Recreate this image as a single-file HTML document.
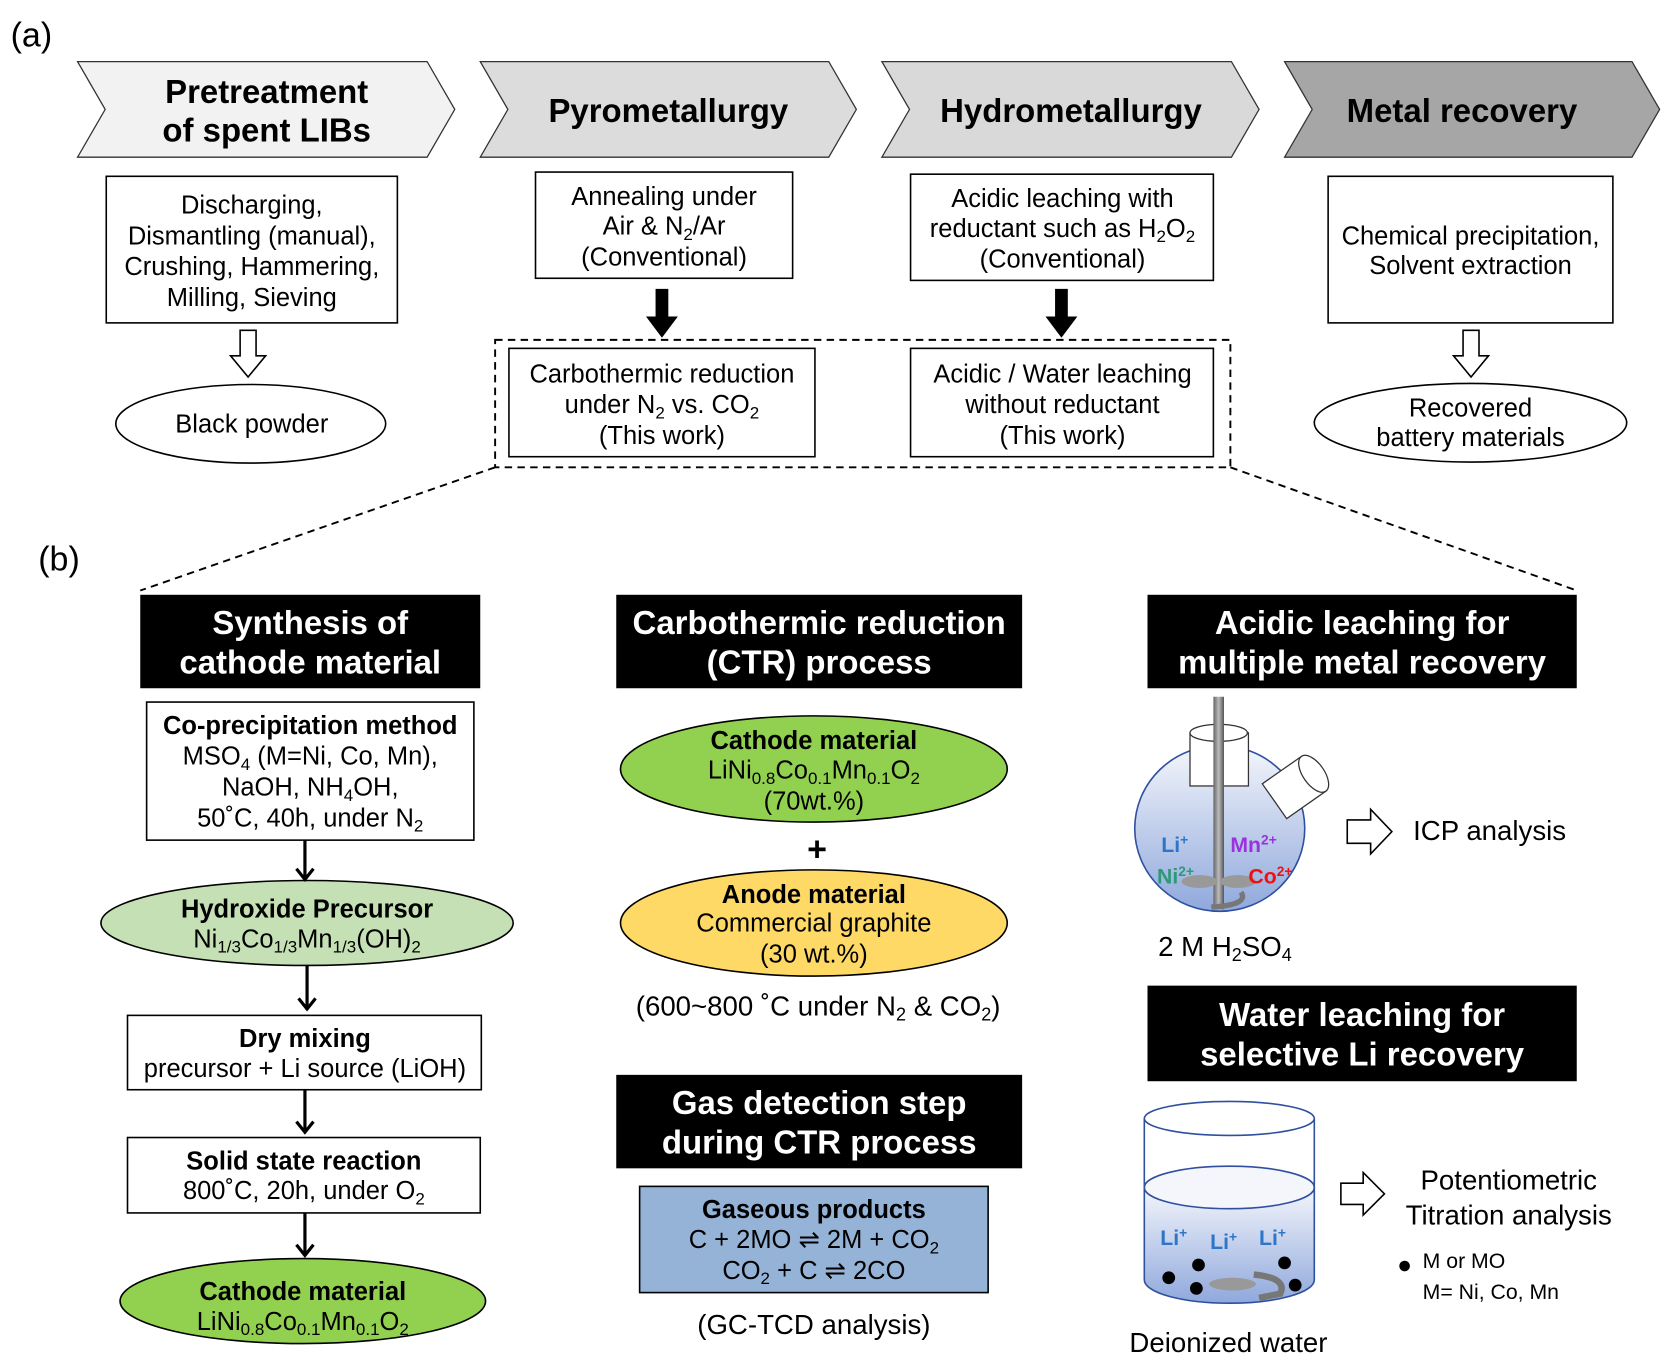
<!DOCTYPE html>
<html><head><meta charset="utf-8"><style>
html,body{margin:0;padding:0;background:#fff}
svg{display:block}
text{font-family:"Liberation Sans",Arial,sans-serif;fill:#000}
.b{font-weight:bold}
.w{fill:#fff;font-weight:bold}
</style></head><body>
<svg width="1666" height="1368" viewBox="0 0 1568 1288" preserveAspectRatio="none" xmlns="http://www.w3.org/2000/svg">
<defs>
<linearGradient id="liq" x1="0" y1="0" x2="0" y2="1"><stop offset="0" stop-color="#f4f6fb"/><stop offset="1" stop-color="#8fa8dc"/></linearGradient>
<linearGradient id="rod" x1="0" y1="0" x2="1" y2="0"><stop offset="0" stop-color="#666"/><stop offset=".5" stop-color="#bbb"/><stop offset="1" stop-color="#555"/></linearGradient>
</defs>
<text x="10" y="44" font-size="32">(a)</text>
<g stroke="#333" stroke-width="1.2">
<path d="M73,58 L402,58 L428,103 L402,148 L73,148 L99,103 Z" fill="#f2f2f2"/>
<path d="M452,58 L780,58 L806,103 L780,148 L452,148 L478,103 Z" fill="#dcdcdc"/>
<path d="M830,58 L1159,58 L1185,103 L1159,148 L830,148 L856,103 Z" fill="#d9d9d9"/>
<path d="M1209,58 L1536,58 L1562,103 L1536,148 L1209,148 L1235,103 Z" fill="#a6a6a6"/>
</g>
<g font-size="31" text-anchor="middle">
<text x="251" y="97" class="b">Pretreatment</text><text x="251" y="133" class="b">of spent LIBs</text>
<text x="629" y="115" class="b">Pyrometallurgy</text>
<text x="1008" y="115" class="b">Hydrometallurgy</text>
<text x="1376" y="115" class="b">Metal recovery</text>
</g>
<g fill="#fff" stroke="#000" stroke-width="1.5">
<rect x="100" y="166" width="274" height="138"/>
<rect x="504" y="162" width="242" height="100"/>
<rect x="857" y="164" width="285" height="100"/>
<rect x="1250" y="166" width="268" height="138"/>
<rect x="479" y="328" width="288" height="102"/>
<rect x="857" y="328" width="285" height="102"/>
<ellipse cx="236" cy="399" rx="127" ry="37"/>
<ellipse cx="1384" cy="398" rx="147" ry="37"/>
</g>
<g font-size="24" text-anchor="middle">
<text x="237" y="201">Discharging,</text><text x="237" y="230">Dismantling (manual),</text><text x="237" y="259">Crushing, Hammering,</text><text x="237" y="288">Milling, Sieving</text>
<text x="625" y="193">Annealing under</text><text x="625" y="221">Air &amp; N<tspan font-size="16" dy="5">2</tspan><tspan dy="-5">/Ar</tspan></text><text x="625" y="250">(Conventional)</text>
<text x="1000" y="195">Acidic leaching with</text><text x="1000" y="223">reductant such as H<tspan font-size="16" dy="5">2</tspan><tspan dy="-5">O</tspan><tspan font-size="16" dy="5">2</tspan></text><text x="1000" y="252">(Conventional)</text>
<text x="1384" y="230">Chemical precipitation,</text><text x="1384" y="258">Solvent extraction</text>
<text x="623" y="360">Carbothermic reduction</text><text x="623" y="389">under N<tspan font-size="16" dy="5">2</tspan><tspan dy="-5"> vs. CO</tspan><tspan font-size="16" dy="5">2</tspan></text><text x="623" y="418">(This work)</text>
<text x="1000" y="360">Acidic / Water leaching</text><text x="1000" y="389">without reductant</text><text x="1000" y="418">(This work)</text>
<text x="237" y="407">Black powder</text>
<text x="1384" y="392">Recovered</text><text x="1384" y="420">battery materials</text>
</g>
<g fill="#fff" stroke="#000" stroke-width="1.5">
<path d="M226,311 L241,311 L241,335 L250,335 L233.5,355 L217,335 L226,335 Z"/>
<path d="M1377,311 L1392,311 L1392,335 L1401,335 L1384.5,355 L1368,335 L1377,335 Z"/>
</g>
<g fill="#000">
<path d="M617,272 L629,272 L629,298 L638,298 L623,318 L608,298 L617,298 Z"/>
<path d="M993,272 L1005,272 L1005,298 L1014,298 L999,318 L984,298 L993,298 Z"/>
</g>
<g fill="none" stroke="#000" stroke-width="1.8" stroke-dasharray="7,5">
<rect x="466" y="320" width="692" height="120"/>
<line x1="466" y1="440" x2="132" y2="556"/>
<line x1="1158" y1="440" x2="1484" y2="556"/>
</g>
<text x="36" y="537" font-size="32">(b)</text>
<g fill="#000">
<rect x="132" y="560" width="320" height="88"/>
<rect x="580" y="560" width="382" height="88"/>
<rect x="1080" y="560" width="404" height="88"/>
<rect x="580" y="1012" width="382" height="88"/>
<rect x="1080" y="928" width="404" height="90"/>
</g>
<g font-size="31" text-anchor="middle">
<text x="292" y="597" class="w">Synthesis of</text><text x="292" y="634" class="w">cathode material</text>
<text x="771" y="597" class="w">Carbothermic reduction</text><text x="771" y="634" class="w">(CTR) process</text>
<text x="1282" y="597" class="w">Acidic leaching for</text><text x="1282" y="634" class="w">multiple metal recovery</text>
<text x="771" y="1049" class="w">Gas detection step</text><text x="771" y="1086" class="w">during CTR process</text>
<text x="1282" y="966" class="w">Water leaching for</text><text x="1282" y="1003" class="w">selective Li recovery</text>
</g>
<g stroke="#000" stroke-width="1.5">
<rect x="138" y="661" width="308" height="130" fill="#fff"/>
<ellipse cx="289" cy="869" rx="194" ry="40" fill="#c5e0b4"/>
<rect x="120" y="956" width="333" height="70" fill="#fff"/>
<rect x="120" y="1071" width="332" height="71" fill="#fff"/>
<ellipse cx="285" cy="1225" rx="172" ry="40" fill="#92d050"/>
<ellipse cx="766" cy="724" rx="182" ry="50" fill="#92d050"/>
<ellipse cx="766" cy="869" rx="182" ry="50" fill="#ffd966"/>
<rect x="602" y="1117" width="328" height="100" fill="#95b3d7"/>
</g>
<g stroke="#000" stroke-width="3" fill="none">
<line x1="287" y1="791" x2="287" y2="826"/><path d="M279,818 L287,828 L295,818"/>
<line x1="289" y1="909" x2="289" y2="948"/><path d="M281,940 L289,950 L297,940"/>
<line x1="287" y1="1026" x2="287" y2="1064"/><path d="M279,1056 L287,1066 L295,1056"/>
<line x1="287" y1="1142" x2="287" y2="1180"/><path d="M279,1172 L287,1182 L295,1172"/>
</g>
<g font-size="24" text-anchor="middle">
<text x="292" y="691" class="b">Co-precipitation method</text>
<text x="292" y="720">MSO<tspan font-size="16" dy="5">4</tspan><tspan dy="-5"> (M=Ni, Co, Mn),</tspan></text>
<text x="292" y="749">NaOH, NH<tspan font-size="16" dy="5">4</tspan><tspan dy="-5">OH,</tspan></text>
<text x="292" y="778">50˚C, 40h, under N<tspan font-size="16" dy="5">2</tspan></text>
<text x="289" y="864" class="b">Hydroxide Precursor</text>
<text x="289" y="892">Ni<tspan font-size="16" dy="5">1/3</tspan><tspan dy="-5">Co</tspan><tspan font-size="16" dy="5">1/3</tspan><tspan dy="-5">Mn</tspan><tspan font-size="16" dy="5">1/3</tspan><tspan dy="-5">(OH)</tspan><tspan font-size="16" dy="5">2</tspan></text>
<text x="287" y="986" class="b">Dry mixing</text>
<text x="287" y="1014">precursor + Li source (LiOH)</text>
<text x="286" y="1101" class="b">Solid state reaction</text>
<text x="286" y="1129">800˚C, 20h, under O<tspan font-size="16" dy="5">2</tspan></text>
<text x="285" y="1224" class="b">Cathode material</text>
<text x="285" y="1252">LiNi<tspan font-size="16" dy="5">0.8</tspan><tspan dy="-5">Co</tspan><tspan font-size="16" dy="5">0.1</tspan><tspan dy="-5">Mn</tspan><tspan font-size="16" dy="5">0.1</tspan><tspan dy="-5">O</tspan><tspan font-size="16" dy="5">2</tspan></text>
<text x="766" y="705" class="b">Cathode material</text>
<text x="766" y="733">LiNi<tspan font-size="16" dy="5">0.8</tspan><tspan dy="-5">Co</tspan><tspan font-size="16" dy="5">0.1</tspan><tspan dy="-5">Mn</tspan><tspan font-size="16" dy="5">0.1</tspan><tspan dy="-5">O</tspan><tspan font-size="16" dy="5">2</tspan></text>
<text x="766" y="762">(70wt.%)</text>
<text x="769" y="810" font-size="32" class="b">+</text>
<text x="766" y="850" class="b">Anode material</text>
<text x="766" y="877">Commercial graphite</text>
<text x="766" y="906">(30 wt.%)</text>
<text x="770" y="956" font-size="26">(600~800 ˚C under N<tspan font-size="17" dy="5">2</tspan><tspan dy="-5"> &amp; CO</tspan><tspan font-size="17" dy="5">2</tspan><tspan dy="-5">)</tspan></text>
<text x="766" y="1147" class="b">Gaseous products</text>
<text x="766" y="1175">C + 2MO ⇌ 2M + CO<tspan font-size="16" dy="5">2</tspan></text>
<text x="766" y="1204">CO<tspan font-size="16" dy="5">2</tspan><tspan dy="-5"> + C ⇌ 2CO</tspan></text>
<text x="766" y="1256" font-size="26">(GC-TCD analysis)</text>
</g>
<!-- flask -->
<ellipse cx="1148" cy="780" rx="80" ry="78" fill="url(#liq)" stroke="#2f4f9f" stroke-width="1.5"/>
<rect x="1120" y="690" width="55" height="50" fill="#fff" stroke="#333" stroke-width="1.2"/>
<ellipse cx="1147" cy="690" rx="27" ry="8" fill="#fff" stroke="#333" stroke-width="1.2"/>
<g transform="rotate(-35 1220 740)"><rect x="1195" y="720" width="45" height="40" fill="#fff" stroke="#333" stroke-width="1.2"/><ellipse cx="1240" cy="740" rx="10" ry="20" fill="#fff" stroke="#333" stroke-width="1.2"/></g>
<rect x="1142" y="656" width="10" height="200" fill="url(#rod)"/>
<ellipse cx="1129" cy="830" rx="17" ry="6" fill="#999"/><ellipse cx="1165" cy="830" rx="17" ry="6" fill="#999"/>
<path d="M1168,840 Q1176,852 1140,854" fill="none" stroke="#777" stroke-width="5"/>
<g font-size="20" class="b">
<text x="1093" y="802" style="fill:#2e75c8">Li<tspan font-size="13" dy="-7">+</tspan></text>
<text x="1158" y="802" style="fill:#9933dd">Mn<tspan font-size="13" dy="-7">2+</tspan></text>
<text x="1089" y="832" style="fill:#2e9977">Ni<tspan font-size="13" dy="-7">2+</tspan></text>
<text x="1175" y="832" style="fill:#ee1111">Co<tspan font-size="13" dy="-7">2+</tspan></text>
</g>
<text x="1090" y="900" font-size="26">2 M H<tspan font-size="17" dy="5">2</tspan><tspan dy="-5">SO</tspan><tspan font-size="17" dy="5">4</tspan></text>
<path d="M1268,772 L1290,772 L1290,762 L1310,783 L1290,804 L1290,794 L1268,794 Z" fill="#fff" stroke="#000" stroke-width="1.5"/>
<text x="1330" y="791" font-size="26">ICP analysis</text>
<!-- beaker -->
<path d="M1077,1118 L1077,1205 A80,22 0 0 0 1237,1205 L1237,1118" fill="url(#liq)" stroke="#2f4f9f" stroke-width="1.5"/>
<ellipse cx="1157" cy="1118" rx="80" ry="20" fill="#f4f6fb" stroke="#2f4f9f" stroke-width="1.5"/>
<path d="M1077,1053 L1077,1118 M1237,1053 L1237,1118" stroke="#2f4f9f" stroke-width="1.5"/>
<ellipse cx="1157" cy="1053" rx="80" ry="16" fill="#fff" stroke="#2f4f9f" stroke-width="1.5"/>
<g font-size="20" class="b">
<text x="1092" y="1172" style="fill:#2e75c8">Li<tspan font-size="13" dy="-7">+</tspan></text>
<text x="1139" y="1176" style="fill:#2e75c8">Li<tspan font-size="13" dy="-7">+</tspan></text>
<text x="1185" y="1172" style="fill:#2e75c8">Li<tspan font-size="13" dy="-7">+</tspan></text>
</g>
<g fill="#000"><circle cx="1100" cy="1203" r="6"/><circle cx="1128" cy="1191" r="6"/><circle cx="1126" cy="1213" r="6"/><circle cx="1209" cy="1189" r="6"/><circle cx="1219" cy="1210" r="6"/></g>
<ellipse cx="1160" cy="1209" rx="22" ry="6" fill="#999"/>
<path d="M1180,1200 Q1212,1203 1205,1218 L1185,1222" fill="none" stroke="#777" stroke-width="6"/>
<text x="1063" y="1273" font-size="26">Deionized water</text>
<path d="M1262,1114 L1283,1114 L1283,1104 L1303,1124 L1283,1144 L1283,1134 L1262,1134 Z" fill="#fff" stroke="#000" stroke-width="1.5"/>
<text x="1420" y="1120" font-size="26" text-anchor="middle">Potentiometric</text>
<text x="1420" y="1153" font-size="26" text-anchor="middle">Titration analysis</text>
<circle cx="1322" cy="1192" r="5" fill="#000"/>
<text x="1339" y="1194" font-size="20">M or MO</text>
<text x="1339" y="1223" font-size="20">M= Ni, Co, Mn</text>
</svg>
</body></html>
